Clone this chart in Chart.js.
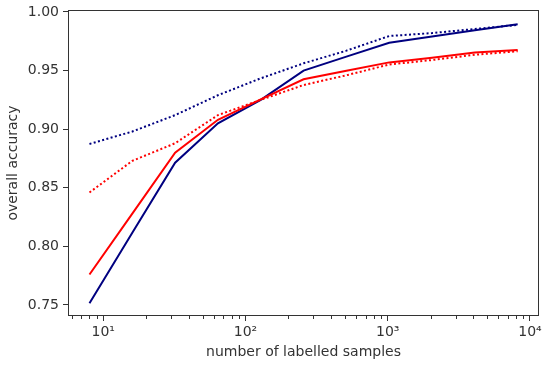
<!DOCTYPE html>
<html>
<head>
<meta charset="utf-8">
<script src="https://cdn.jsdelivr.net/npm/chart.js@4/dist/chart.umd.min.js"></script>
<style>
  html, body { margin: 0; padding: 0; background: #fff; }
  #wrap { width: 550px; height: 366px; }
</style>
</head>
<body>
<div id="wrap"><canvas id="accChart" width="550" height="366"></canvas></div>
<script>
const samples = [8, 16, 32, 64, 128, 256, 512, 1024, 2048, 4096, 8192];
const redSolid  = [0.776, 0.828, 0.880, 0.908, 0.9255, 0.9426, 0.9498, 0.957, 0.961, 0.9655, 0.9676];
const redDotted = [0.846, 0.873, 0.888, 0.912, 0.925, 0.9377, 0.946, 0.9552, 0.959, 0.9635, 0.9665];
const navySolid = [0.7514, 0.8117, 0.8714, 0.905, 0.925, 0.950, 0.9619, 0.9738, 0.979, 0.9845, 0.9895];
const navyDotted = [0.8874, 0.898, 0.912, 0.929, 0.9434, 0.9562, 0.967, 0.9795, 0.982, 0.9855, 0.989];
const yTicks = [0.75, 0.80, 0.85, 0.90, 0.95, 1.00];
const xTicks = [10, 100, 1000, 10000];
const xTickLabels = ['10¹', '10²', '10³', '10⁴'];

const FONT = "'DejaVu Sans', sans-serif";
const AXIS = '#333333';

function series(vals, color, dotted) {
    return {
        data: samples.map((x, i) => ({ x: x, y: vals[i] })),
        borderColor: color,
        borderWidth: 2,
        borderDash: dotted ? [2, 2.4] : [],
        pointRadius: 0,
        tension: 0,
        fill: false
    };
}

// frame + minor log ticks, like matplotlib spines
const framePlugin = {
    id: 'frame',
    afterDraw(chart) {
        const { ctx, chartArea: a, scales } = chart;
        ctx.save();
        ctx.strokeStyle = AXIS;
        ctx.lineWidth = 1;
        ctx.strokeRect(a.left + 0.5, a.top + 0.5, a.right - a.left - 1, a.bottom - a.top - 1);
        const xs = scales.x;
        ctx.beginPath();
        for (let d = 1; d <= 1000; d *= 10) {
            for (let m = 2; m <= 9; m++) {
                const v = m * d;
                if (v < xs.min || v > xs.max) continue;
                const px = Math.round(xs.getPixelForValue(v)) + 0.5;
                ctx.moveTo(px, a.bottom);
                ctx.lineTo(px, a.bottom + 3);
            }
        }
        ctx.stroke();
        ctx.restore();
    }
};

new Chart(document.getElementById('accChart').getContext('2d'), {
    type: 'line',
    data: {
        datasets: [
            series(redDotted, '#ff0000', true),
            series(navyDotted, '#000080', true),
            series(redSolid, '#ff0000', false),
            series(navySolid, '#000080', false)
        ]
    },
    options: {
        responsive: false,
        animation: false,
        layout: { padding: { top: 10, right: 11, left: 0, bottom: 0 } },
        plugins: { legend: { display: false }, tooltip: { enabled: false } },
        scales: {
            x: {
                type: 'logarithmic',
                min: 5.65,
                max: 11570,
                afterBuildTicks: s => { s.ticks = xTicks.map(v => ({ value: v })); },
                afterFit: s => { s.height = 50; s.paddingLeft = 0; s.paddingRight = 0; },
                border: { display: false },
                grid: { display: true, drawOnChartArea: false, drawTicks: true, tickLength: 5, color: AXIS },
                ticks: {
                    autoSkip: false,
                    maxRotation: 0,
                    padding: 3,
                    color: '#333',
                    font: { family: FONT, size: 14 },
                    callback: (v) => { const i = xTicks.indexOf(v); return i >= 0 ? xTickLabels[i] : ''; }
                },
                title: { display: true, text: 'number of labelled samples', color: '#333', font: { family: FONT, size: 14 }, padding: { top: 0, bottom: 5 } }
            },
            y: {
                min: 0.7406,
                max: 1.0017,
                afterBuildTicks: s => { s.ticks = yTicks.map(v => ({ value: v })); },
                afterFit: s => { s.width = 68; s.paddingTop = 0; s.paddingBottom = 0; },
                border: { display: false },
                grid: { display: true, drawOnChartArea: false, drawTicks: true, tickLength: 5, color: AXIS },
                ticks: {
                    padding: 4,
                    color: '#333',
                    font: { family: FONT, size: 14 },
                    callback: v => v.toFixed(2)
                },
                title: { display: true, text: 'overall accuracy', color: '#333', font: { family: FONT, size: 14 }, padding: { top: 5, bottom: 0 } }
            }
        }
    },
    plugins: [framePlugin]
});
</script>
</body>
</html>
